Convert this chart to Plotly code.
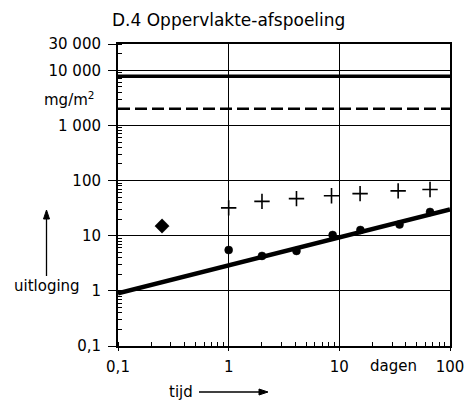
import numpy as np
import plotly.graph_objects as go

# data
dot_t = [0.25, 1, 2, 4.1, 8.7, 15.5, 35, 66]
dot_v = [15, 5.5, 4.3, 5.3, 10.3, 12.7, 16, 27]
plus_t = [1, 2, 4.1, 8.5, 15.4, 34, 66]
plus_v = [32, 42, 47, 53, 58, 65, 69]
fit_t = [0.1, 100]
fit_v = [0.9, 30]
level_solid = 7800
level_dashed = 2000
xtick_vals = [0.1, 1, 10, 100]
xtick_text = ["0,1", "1", "10", "100"]
ytick_vals = [0.1, 1, 10, 100, 1000, 10000, 30000]
ytick_text = ["0,1", "1", "10", "100", "1 000", "10 000", "30 000"]

FONT = "DejaVu Sans"
W, H = 466, 402
# plot area in reference pixels: x 118..450, y 44..346
L, R, T, B = 118, 466 - 450, 44, 402 - 346
PW, PH = W - L - R, H - T - B

def px(x): return (x - L) / PW
def py(y): return (H - B - y) / PH

fig = go.Figure()

fig.add_trace(go.Scatter(x=[0.1, 100], y=[level_solid]*2, mode="lines",
                         line=dict(color="black", width=3.5), showlegend=False))
fig.add_trace(go.Scatter(x=[0.1, 100], y=[level_dashed]*2, mode="lines",
                         line=dict(color="black", width=2.5, dash="12px,5px"), showlegend=False))
fig.add_trace(go.Scatter(x=fit_t, y=fit_v, mode="lines",
                         line=dict(color="black", width=4.5), showlegend=False))
fig.add_trace(go.Scatter(x=dot_t, y=dot_v, mode="markers",
                         marker=dict(color="black", opacity=1, size=[11] + [8]*(len(dot_t)-1),
                                     symbol=["diamond"] + ["circle"]*(len(dot_t)-1),
                                     line=dict(color="black", width=0.5)),
                         showlegend=False))
fig.add_trace(go.Scatter(x=plus_t, y=plus_v, mode="markers",
                         marker=dict(symbol="cross-thin", size=11, opacity=1,
                                     line=dict(color="black", width=1.6)),
                         showlegend=False))

axis_common = dict(type="log", showgrid=True, gridcolor="black", gridwidth=1.2,
                   showline=True, linecolor="black", linewidth=2, mirror=True,
                   ticks="outside", tickcolor="black", automargin=False,
                   minor=dict(ticks="inside", ticklen=4, tickcolor="black", dtick="D1", showgrid=False),
                   tickfont=dict(family=FONT, size=15, color="black"), zeroline=False)
fig.update_xaxes(range=[-1, 2], tickvals=xtick_vals, ticktext=xtick_text, ticklen=3,
                 ticklabelstandoff=3, **axis_common)
fig.update_yaxes(range=[-1, np.log10(30000)], tickvals=ytick_vals, ticktext=ytick_text,
                 ticklen=8, ticklabelstandoff=4, **axis_common)

ann = [
    dict(text="D.4 Oppervlakte-afspoeling", x=228, y=20, size=17),
    dict(text="mg/m<sup>2</sup>", x=69, y=99, size=15),
    dict(text="uitloging", x=47, y=286, size=15),
    dict(text="dagen", x=393, y=366, size=15),
    dict(text="tijd", x=181, y=392, size=15),
]
for a in ann:
    fig.add_annotation(text=a["text"], x=px(a["x"]), y=py(a["y"]), xref="paper", yref="paper",
                       showarrow=False, font=dict(family=FONT, size=a["size"], color="black"),
                       xanchor="center", yanchor="middle")

# arrows as shapes
fig.add_shape(type="line", xref="paper", yref="paper", x0=px(46.5), x1=px(46.5),
              y0=py(276), y1=py(216), line=dict(color="black", width=1.3))
fig.add_shape(type="path", xref="paper", yref="paper",
              path=f"M {px(46.5)} {py(210)} L {px(43.5)} {py(219)} L {px(49.5)} {py(219)} Z",
              fillcolor="black", line=dict(color="black", width=1))
fig.add_shape(type="line", xref="paper", yref="paper", x0=px(199), x1=px(262),
              y0=py(392), y1=py(392), line=dict(color="black", width=1.3))
fig.add_shape(type="path", xref="paper", yref="paper",
              path=f"M {px(268)} {py(392)} L {px(259)} {py(389)} L {px(259)} {py(395)} Z",
              fillcolor="black", line=dict(color="black", width=1))

fig.update_layout(width=W, height=H, margin=dict(l=L, r=R, t=T, b=B, autoexpand=False),
                  paper_bgcolor="white", plot_bgcolor="white",
                  font=dict(family=FONT, color="black"), showlegend=False)
fig.write_html("out.html", config={"displayModeBar": False},
               post_script="document.body.style.margin='0';document.body.style.overflow='hidden';")
